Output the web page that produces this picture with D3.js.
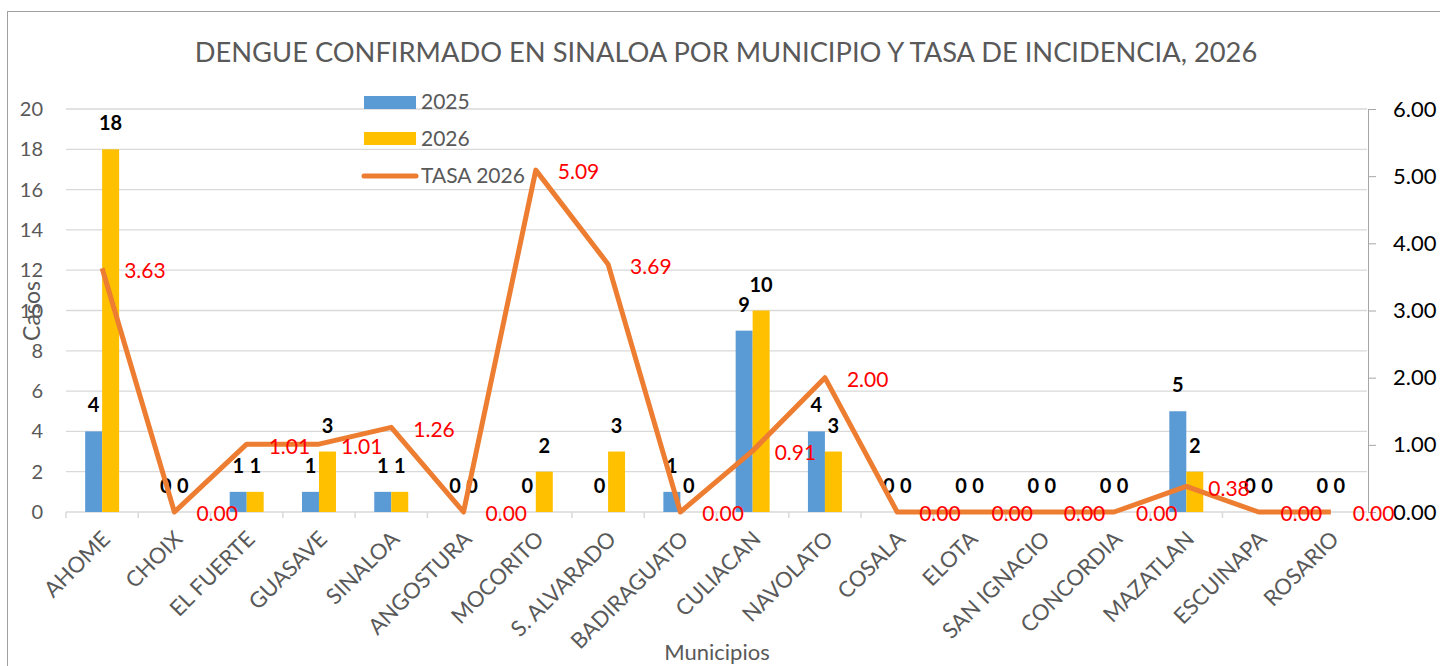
<!doctype html>
<html lang="es">
  <head>
    <meta charset="utf-8">
    <title>Dengue Sinaloa 2026</title>
    <script src="https://d3js.org/d3.v7.min.js"></script>
    <style>
      body { margin: 0; background: #fff; }
      text { font-family: Lato, "Open Sans", sans-serif; }
    </style>
  </head>

  <body>
    <svg width="1440" height="666"></svg>

    <script>
      var municipios = ["AHOME", "CHOIX", "EL FUERTE", "GUASAVE", "SINALOA", "ANGOSTURA", "MOCORITO", "S. ALVARADO", "BADIRAGUATO", "CULIACAN", "NAVOLATO", "COSALA", "ELOTA", "SAN IGNACIO", "CONCORDIA", "MAZATLAN", "ESCUINAPA", "ROSARIO"];
      var casos2025 = [4, 0, 1, 1, 1, 0, 0, 0, 1, 9, 4, 0, 0, 0, 0, 5, 0, 0];
      var casos2026 = [18, 0, 1, 3, 1, 0, 2, 3, 0, 10, 3, 0, 0, 0, 0, 2, 0, 0];
      var tasa2026 = [3.63, 0.00, 1.01, 1.01, 1.26, 0.00, 5.09, 3.69, 0.00, 0.91, 2.00, 0.00, 0.00, 0.00, 0.00, 0.38, 0.00, 0.00];
      var leftTicks = [0, 2, 4, 6, 8, 10, 12, 14, 16, 18, 20];
      var rightTicks = [0, 1, 2, 3, 4, 5, 6];
      var series = ["2025", "2026"];

      var colors = { "2025": "#5B9BD5", "2026": "#FFC000", tasa: "#ED7D31" };
      var grey = "#595959";

      var svg = d3.select('svg');

      // chart frame
      svg.append('rect')
        .attr('x', 7.5).attr('y', 11.5)
        .attr('width', 1450).attr('height', 700)
        .attr('fill', 'none').attr('stroke', '#a0a0a0');

      var x = d3.scaleBand().domain(municipios).range([66, 1367]);
      var x1 = d3.scaleBand().domain(series)
        .range([x.bandwidth() * 0.265, x.bandwidth() * 0.735]);
      var y = d3.scaleLinear().domain([0, 20]).range([512, 109]);
      var y2 = d3.scaleLinear().domain([0, 6]).range([512, 109]);

      // title
      svg.append('text')
        .attr('x', 726).attr('y', 62)
        .attr('text-anchor', 'middle')
        .attr('fill', grey)
        .style('font-size', '27.3px')
        .text('DENGUE CONFIRMADO EN SINALOA POR MUNICIPIO Y TASA DE INCIDENCIA, 2026');

      // gridlines
      svg.append('g').selectAll('line')
        .data(leftTicks.filter(function(d){ return d > 0; }))
        .enter().append('line')
          .attr('x1', 66).attr('x2', 1367)
          .attr('y1', function(d){ return y(d); })
          .attr('y2', function(d){ return y(d); })
          .attr('stroke', '#d9d9d9').attr('stroke-width', 1.3);

      // left axis labels
      svg.append('g').selectAll('text')
        .data(leftTicks)
        .enter().append('text')
          .attr('x', 43)
          .attr('y', function(d){ return y(d); })
          .attr('dy', '0.35em')
          .attr('text-anchor', 'end')
          .attr('fill', grey)
          .style('font-size', '20px')
          .text(function(d){ return d; });

      // right axis
      var right = svg.append('g').attr('transform', 'translate(1368,0)')
        .call(d3.axisRight(y2).tickValues(rightTicks).tickSize(8).tickPadding(17)
          .tickFormat(d3.format('.2f')));
      right.select('.domain').attr('stroke', '#a6a6a6');
      right.selectAll('.tick line').attr('stroke', '#a6a6a6');
      right.selectAll('.tick text')
        .attr('fill', '#000')
        .style('font-size', '22px')
        .style('font-family', 'Lato, sans-serif');

      // bottom axis (zero line + category ticks)
      var bottom = svg.append('g').attr('transform', 'translate(0,512)');
      bottom.append('line')
        .attr('x1', 66).attr('x2', 1367)
        .attr('stroke', '#d9d9d9').attr('stroke-width', 1.5);
      bottom.selectAll('line.tk')
        .data(municipios)
        .enter().append('line')
          .attr('class', 'tk')
          .attr('x1', function(d){ return x(d); })
          .attr('x2', function(d){ return x(d); })
          .attr('y1', 0).attr('y2', 6)
          .attr('stroke', '#d9d9d9').attr('stroke-width', 1.5);

      svg.append('g').selectAll('text')
        .data(municipios)
        .enter().append('text')
          .attr('transform', function(d){
            return 'translate(' + (x(d) + x.bandwidth() / 2 + 4) + ',535) rotate(-45)';
          })
          .attr('text-anchor', 'end')
          .attr('dy', '0.35em')
          .attr('fill', grey)
          .style('font-size', '22px')
          .text(function(d){ return d; });

      // bars
      var barData = [];
      municipios.forEach(function(m, i){
        barData.push({ m: m, s: "2025", v: casos2025[i] });
        barData.push({ m: m, s: "2026", v: casos2026[i] });
      });

      svg.append('g').selectAll('rect')
        .data(barData)
        .enter().append('rect')
          .attr('x', function(d){ return x(d.m) + x1(d.s); })
          .attr('width', x1.bandwidth())
          .attr('y', function(d){ return y(d.v); })
          .attr('height', function(d){ return y(0) - y(d.v); })
          .attr('fill', function(d){ return colors[d.s]; });

      svg.append('g').selectAll('text')
        .data(barData)
        .enter().append('text')
          .attr('x', function(d){ return x(d.m) + x1(d.s) + x1.bandwidth() / 2; })
          .attr('y', function(d){ return y(d.v) - 19; })
          .attr('text-anchor', 'middle')
          .attr('fill', '#000')
          .style('font-size', '20px')
          .style('font-weight', 'bold')
          .text(function(d){ return d.v; });

      // tasa line
      var line = d3.line()
        .x(function(d, i){ return x(municipios[i]) + x.bandwidth() / 2; })
        .y(function(d){ return y2(d); });

      svg.append('path')
        .datum(tasa2026)
        .attr('d', line)
        .attr('fill', 'none')
        .attr('stroke', colors.tasa)
        .attr('stroke-width', 5)
        .attr('stroke-linejoin', 'round');

      svg.append('g').selectAll('text')
        .data(tasa2026)
        .enter().append('text')
          .attr('x', function(d, i){ return x(municipios[i]) + x.bandwidth() / 2 + 22; })
          .attr('y', function(d){ return y2(d) + 2; })
          .attr('dy', '0.35em')
          .attr('fill', '#FF0000')
          .style('font-size', '21px')
          .text(function(d){ return d3.format('.2f')(d); });

      // axis titles
      svg.append('text')
        .attr('transform', 'translate(40,311) rotate(-90)')
        .attr('text-anchor', 'middle')
        .attr('fill', grey)
        .style('font-size', '23px')
        .text('Casos');

      svg.append('text')
        .attr('x', 717).attr('y', 660)
        .attr('text-anchor', 'middle')
        .attr('fill', grey)
        .style('font-size', '22px')
        .text('Municipios');

      // legend
      var legend = svg.append('g');
      legend.append('rect').attr('x', 364).attr('y', 96).attr('width', 52).attr('height', 13).attr('fill', colors["2025"]);
      legend.append('rect').attr('x', 364).attr('y', 132).attr('width', 52).attr('height', 13).attr('fill', colors["2026"]);
      legend.append('line').attr('x1', 364).attr('x2', 416).attr('y1', 176).attr('y2', 176)
        .attr('stroke', colors.tasa).attr('stroke-width', 5).attr('stroke-linecap', 'round');
      legend.selectAll('text')
        .data(["2025", "2026", "TASA 2026"])
        .enter().append('text')
          .attr('x', 421)
          .attr('y', function(d, i){ return 102 + i * 37; })
          .attr('dy', '0.35em')
          .attr('fill', grey)
          .style('font-size', '21px')
          .text(function(d){ return d; });
    </script>
  </body>
</html>
